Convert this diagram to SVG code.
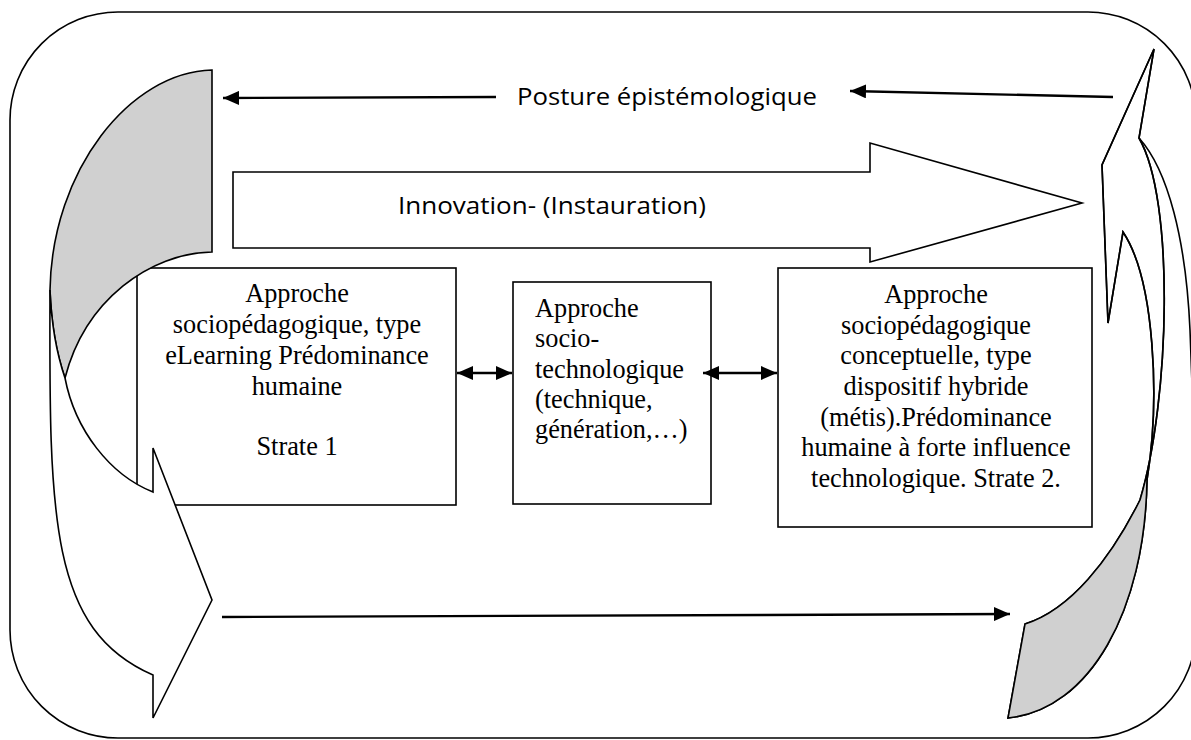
<svg xmlns="http://www.w3.org/2000/svg" width="1191" height="740" viewBox="0 0 1191 740">
<defs>
<style>
.frame{fill:#fff;stroke:#000;stroke-width:1.6}
.box{fill:#fff;stroke:#000;stroke-width:1.6}
.shape{fill:#fff;stroke:#000;stroke-width:1.6;stroke-linejoin:miter}
.gray{fill:#d0d0d0;stroke:#000;stroke-width:1.6}
.conn{fill:none;stroke:#000;stroke-width:2.4}
.sans{font-family:"Open Sans","Liberation Sans",sans-serif;font-size:24px;fill:#000}
.serif{font-family:"Liberation Serif","Times New Roman",serif;font-size:26.3px;fill:#000}
.c{text-anchor:middle}
</style>
<marker id="ah" markerUnits="userSpaceOnUse" markerWidth="17" markerHeight="14" refX="16" refY="7" orient="auto-start-reverse">
<path d="M0,0 L16,7 L0,14 Z" fill="#000"/>
</marker>
<clipPath id="lowR"><rect x="980" y="437" width="211" height="303"/></clipPath>
</defs>

<rect class="frame" x="10" y="12" width="1186" height="726" rx="108" ry="108"/>

<g id="innovation">
<path class="shape" d="M233,172 L870,172 L870,143 L1082,203 L870,262 L870,248 L233,248 Z"/>
<text class="sans" x="552" y="214" textLength="308" lengthAdjust="spacingAndGlyphs" text-anchor="middle">Innovation- (Instauration)</text>
</g>

<g id="strate1">
<rect class="box" x="137" y="268" width="319" height="237"/>
<text class="serif c" x="297" y="302">Approche</text>
<text class="serif c" x="297" y="333">sociopédagogique, type</text>
<text class="serif c" x="297" y="364">eLearning Prédominance</text>
<text class="serif c" x="297" y="395">humaine</text>
<text class="serif c" x="297" y="455">Strate 1</text>
</g>

<g id="sociotech">
<rect class="box" x="513" y="282" width="198" height="222"/>
<text class="serif" x="535" y="317">Approche</text>
<text class="serif" x="535" y="347">socio-</text>
<text class="serif" x="535" y="378">technologique</text>
<text class="serif" x="535" y="408">(technique,</text>
<text class="serif" x="535" y="438">génération,…)</text>
</g>

<g id="strate2">
<rect class="box" x="778" y="268" width="314" height="259"/>
<text class="serif c" x="936" y="303">Approche</text>
<text class="serif c" x="936" y="333.7">sociopédagogique</text>
<text class="serif c" x="936" y="364.3">conceptuelle, type</text>
<text class="serif c" x="936" y="395">dispositif hybride</text>
<text class="serif c" x="936" y="425.7">(métis).Prédominance</text>
<text class="serif c" x="936" y="456.3">humaine à forte influence</text>
<text class="serif c" x="936" y="487">technologique. Strate 2.</text>
</g>

<g id="posture">
<text class="sans" x="667" y="105" textLength="300" lengthAdjust="spacingAndGlyphs" text-anchor="middle">Posture épistémologique</text>
</g>

<g id="connectors">
<line class="conn" x1="496" y1="97" x2="223" y2="98" marker-end="url(#ah)"/>
<line class="conn" x1="1113" y1="97" x2="850" y2="91" marker-end="url(#ah)"/>
<line class="conn" x1="222" y1="617" x2="1010" y2="614" marker-end="url(#ah)"/>
<line class="conn" x1="457" y1="373" x2="512" y2="373" marker-start="url(#ah)" marker-end="url(#ah)"/>
<line class="conn" x1="703" y1="373" x2="777" y2="373" marker-start="url(#ah)" marker-end="url(#ah)"/>
</g>

<g id="left-curved-arrow">
<path class="gray" d="M212,70 L212,252 C150,253 85,300 65,378 Q52,340 50,290 C52,170 130,72 212,70 Z"/>
<path class="shape" d="M50,290 C49,520 50,630 153,675 L153,718 L212,600 L153,448 L153,492 C110,475 75,430 65,378 Q52,340 50,290 Z"/>
</g>

<g id="right-curved-arrow">
<path d="M1139,138 C1168,170 1186,240 1190,330 C1193,400 1195,460 1197,520" fill="none" stroke="#000" stroke-width="1.6"/>
<path class="shape" d="M1008,718 C1090,710 1145,610 1147,480 C1160,400 1155,280 1123,232 L1108,323 L1102,165 L1154,49 L1139,138 C1175,200 1170,400 1140,500 C1110,560 1070,610 1025,624 Z"/>
<path d="M1008,718 C1090,710 1145,610 1147,480 C1160,400 1155,280 1123,232 L1108,323 L1102,165 L1154,49 L1139,138 C1175,200 1170,400 1140,500 C1110,560 1070,610 1025,624 Z" fill="#d0d0d0" stroke="none" clip-path="url(#lowR)"/>
<path d="M1008,718 C1090,710 1145,610 1147,480 C1160,400 1155,280 1123,232 L1108,323 L1102,165 L1154,49 L1139,138 C1175,200 1170,400 1140,500 C1110,560 1070,610 1025,624 Z" fill="none" stroke="#000" stroke-width="1.6"/>
</g>
</svg>
